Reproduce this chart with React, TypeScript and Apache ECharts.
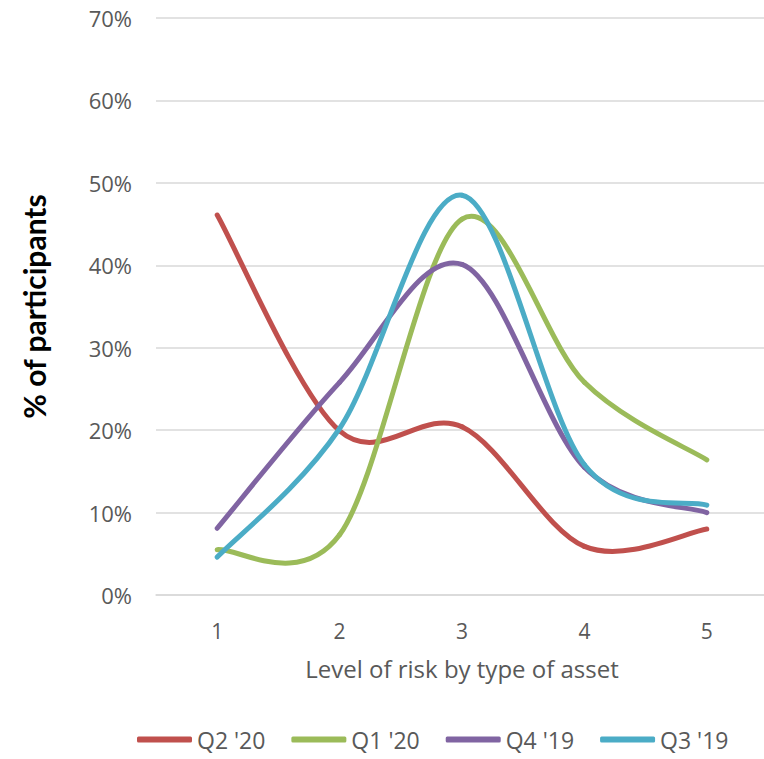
import React, { useEffect, useRef } from "react";
import * as echarts from "echarts";

// Risk levels on the horizontal axis
const riskLevels = ["1", "2", "3", "4", "5"];

// Share of participants (%) choosing each risk level, per survey quarter
const q2_20 = [46.1, 19.9, 20.4, 5.9, 8.0];
const q1_20 = [5.5, 7.3, 45.6, 25.8, 16.4];
const q4_19 = [8.1, 25.8, 40.1, 15.5, 10.0];
const q3_19 = [4.6, 20.2, 48.5, 15.8, 10.9];

const seriesNames = ["Q2 '20", "Q1 '20", "Q4 '19", "Q3 '19"];
const seriesColors = ["#C0504D", "#9BBB59", "#8064A2", "#4BACC6"];
const seriesValues = [q2_20, q1_20, q4_19, q3_19];

const FONT = "'Open Sans', sans-serif";

// Smoothed line drawn as Catmull-Rom segments (one bezier per pair of points)
function smoothSegment(values: number[], color: string) {
  return (params: any, api: any) => {
    const j = params.dataIndex;
    const n = values.length;
    if (j >= n - 1) return null;
    const pt = (k: number) => {
      const kk = Math.max(0, Math.min(n - 1, k));
      return api.coord([kk, values[kk]]);
    };
    const p0 = pt(j - 1);
    const p1 = pt(j);
    const p2 = pt(j + 1);
    const p3 = pt(j + 2);
    return {
      type: "bezierCurve",
      shape: {
        x1: p1[0],
        y1: p1[1],
        x2: p2[0],
        y2: p2[1],
        cpx1: p1[0] + (p2[0] - p0[0]) / 6,
        cpy1: p1[1] + (p2[1] - p0[1]) / 6,
        cpx2: p2[0] - (p3[0] - p1[0]) / 6,
        cpy2: p2[1] - (p3[1] - p1[1]) / 6,
      },
      style: { stroke: color, lineWidth: 5, fill: "none", lineCap: "round" },
    };
  };
}

export default function App() {
  const ref = useRef<HTMLDivElement>(null);

  useEffect(() => {
    if (!ref.current) return;
    const chart = echarts.init(ref.current, undefined, { renderer: "svg" });

    chart.setOption({
      animation: false,
      backgroundColor: "#ffffff",
      textStyle: { fontFamily: FONT },
      grid: {
        left: 156,
        top: 18,
        width: 612,
        height: 577,
        containLabel: false,
        outerBoundsMode: "none",
      },
      legend: {
        left: 137,
        top: 728,
        itemWidth: 55,
        itemHeight: 6,
        itemGap: 26,
        padding: 0,
        icon: "roundRect",
        data: seriesNames,
        textStyle: { color: "#595959", fontSize: 23, fontFamily: FONT },
      },
      xAxis: {
        type: "category",
        data: riskLevels,
        boundaryGap: true,
        axisLine: { show: true, lineStyle: { color: "#D9D9D9", width: 1.5 } },
        axisTick: { show: false },
        axisLabel: { color: "#595959", fontSize: 21, margin: 25, fontFamily: FONT },
        name: "Level of risk by type of asset",
        nameLocation: "middle",
        nameGap: 61,
        nameTextStyle: { color: "#595959", fontSize: 24, fontFamily: FONT },
      },
      yAxis: {
        type: "value",
        min: 0,
        max: 70,
        interval: 10,
        axisLine: { show: false },
        axisTick: { show: false },
        splitLine: { lineStyle: { color: "#D9D9D9", width: 1.5 } },
        axisLabel: { color: "#595959", fontSize: 22, margin: 24, formatter: "{value}%", fontFamily: FONT },
        name: "% of participants",
        nameLocation: "middle",
        nameGap: 107,
        nameTextStyle: { color: "#000000", fontSize: 30, fontWeight: "bold", fontFamily: "Lato, sans-serif" },
      },
      series: seriesNames.map((name, i) => ({
        name,
        type: "custom",
        coordinateSystem: "cartesian2d",
        data: seriesValues[i].map((v, j) => [j, v]),
        encode: { x: 0, y: 1 },
        itemStyle: { color: seriesColors[i] },
        renderItem: smoothSegment(seriesValues[i], seriesColors[i]),
      })),
    });

    return () => chart.dispose();
  }, []);

  return (
    <div
      ref={ref}
      style={{ position: "fixed", left: 0, top: 0, width: 764, height: 759 }}
    />
  );
}
